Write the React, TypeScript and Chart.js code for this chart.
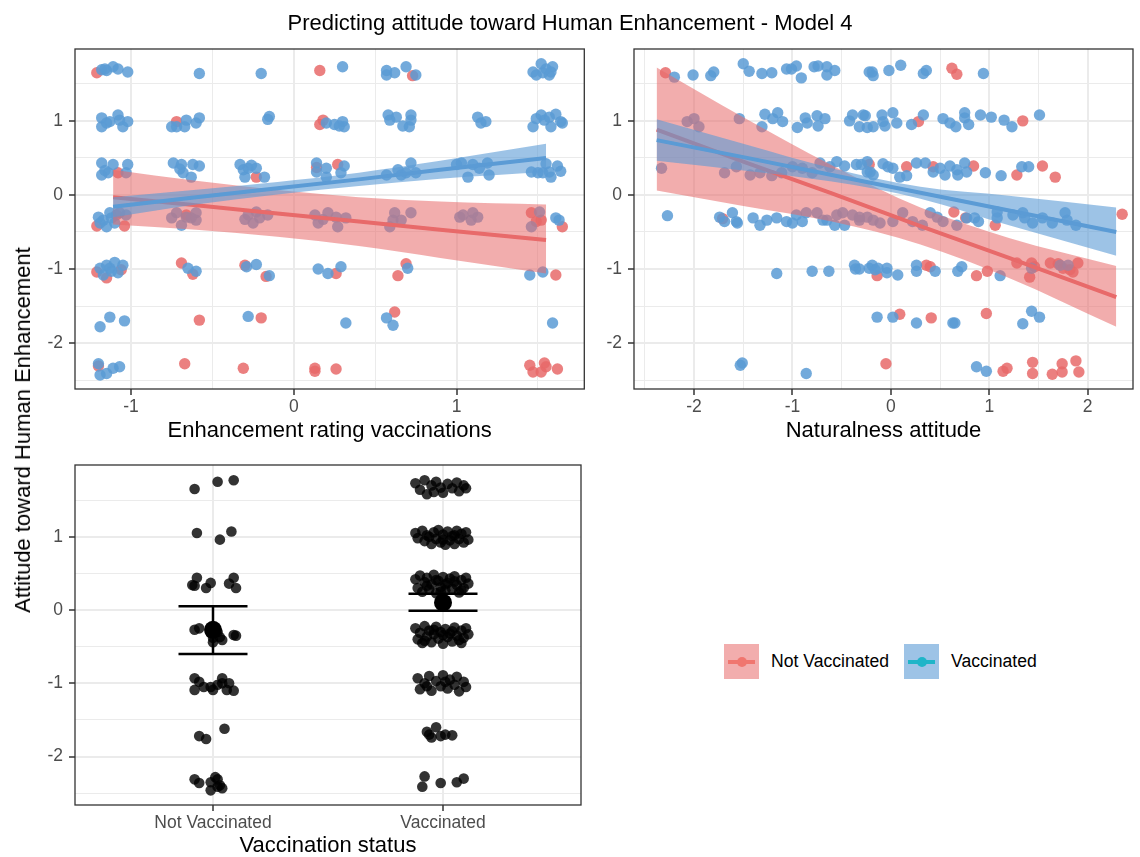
import React, { useEffect, useRef } from "react";
import { Chart, registerables } from "chart.js";

Chart.register(...registerables);

const FONT = '"Liberation Sans", Arial, Helvetica, sans-serif';

// ---------------- DATA ----------------
const TITLE = "Predicting attitude toward Human Enhancement - Model 4";
const Y_TITLE = "Attitude toward Human Enhancement";
const ENH_X_TITLE = "Enhancement rating vaccinations";
const NAT_X_TITLE = "Naturalness attitude";
const STATUS_X_TITLE = "Vaccination status";
const GROUPS = ["Not Vaccinated", "Vaccinated"];

const Y_MAJOR = [-2, -1, 0, 1];
const Y_MINOR = [-2.5, -1.5, -0.5, 0.5, 1.5];
const ENH_X_MAJOR = [-1, 0, 1];
const ENH_X_MINOR = [-0.5, 0.5, 1.5];
const NAT_X_MAJOR = [-2, -1, 0, 1, 2];
const NAT_X_MINOR = [-2.5, -1.5, -0.5, 0.5, 1.5];
const STATUS_X_MAJOR = [1, 2];

const Y_RANGE = [-2.62, 1.97];
const ENH_X_RANGE = [-1.344, 1.785];
const NAT_X_RANGE = [-2.61, 2.46];
const STATUS_Y_RANGE = [-2.66, 1.978];
const STATUS_X_RANGE = [0.4, 2.6];

// Panel 1: enhancement rating (x) vs attitude (y)
const ENH_NOT_VACC = [
  [-1.21, 1.65], [-1.08, 0.3], [-1.21, -0.42], [-1.04, -0.42], [-1.09, -0.27],
  [-1.21, -1.04], [-1.15, -1.12], [-1.06, -1.01], [-1.2, -2.31],
  [-0.72, 0.99], [-0.66, -0.27], [-0.69, -0.92], [-0.62, -1.07], [-0.58, -1.69], [-0.67, -2.28],
  [-0.23, 0.24], [-0.3, -0.95], [-0.17, -1.1], [-0.2, -1.66], [-0.31, -2.34],
  [0.16, 1.68], [0.18, 1.01], [0.16, 0.95], [0.14, 0.37], [0.27, 0.41], [0.26, -1.06],
  [0.13, -2.34], [0.13, -2.38], [0.26, -2.35],
  [0.73, 1.61], [0.69, -0.93], [0.64, -1.09], [0.62, -1.58],
  [1.46, -0.24], [1.49, -0.36], [1.52, -0.34], [1.65, -0.43], [1.61, -1.08],
  [1.45, -2.3], [1.47, -2.39], [1.52, -2.39], [1.54, -2.27], [1.55, -2.32], [1.62, -2.35],
];
const ENH_VACC = [
  [-1.18, 1.69], [-1.15, 1.68], [-1.11, 1.73], [-1.08, 1.7], [-1.02, 1.66], [-1.16, 1.7],
  [-1.18, 1.04], [-1.18, 0.92], [-1.13, 0.99], [-1.08, 1.08], [-1.07, 1.01], [-1.05, 0.92], [-1.02, 0.99], [-1.15, 0.97],
  [-1.18, 0.43], [-1.18, 0.27], [-1.14, 0.3], [-1.11, 0.41], [-1.02, 0.41], [-1.03, 0.3], [-1.16, 0.33],
  [-1.2, -0.3], [-1.17, -0.34], [-1.15, -0.43], [-1.19, -0.38], [-1.13, -0.24], [-1.1, -0.38], [-1.07, -0.24], [-1.03, -0.27], [-1.12, -0.31],
  [-1.19, -0.99], [-1.15, -0.95], [-1.13, -0.99], [-1.1, -0.91], [-1.08, -1.05], [-1.05, -0.95], [-1.17, -1.08], [-1.12, -1.03],
  [-1.19, -1.78], [-1.13, -1.65], [-1.04, -1.7],
  [-1.2, -2.28], [-1.19, -2.43], [-1.15, -2.41], [-1.11, -2.34], [-1.07, -2.32],
  [-0.58, 1.64],
  [-0.75, 0.92], [-0.72, 0.92], [-0.67, 0.92], [-0.66, 1.01], [-0.6, 0.97], [-0.58, 1.04],
  [-0.74, 0.43], [-0.69, 0.41], [-0.68, 0.3], [-0.63, 0.24], [-0.62, 0.41], [-0.58, 0.39], [-0.7, 0.35],
  [-0.75, -0.31], [-0.72, -0.24], [-0.69, -0.41], [-0.63, -0.31], [-0.6, -0.24], [-0.6, -0.34], [-0.66, -0.3],
  [-0.65, -0.99], [-0.6, -1.03],
  [-0.2, 1.64], [-0.15, 1.06], [-0.16, 1.02],
  [-0.33, 0.41], [-0.31, 0.34], [-0.28, 0.36], [-0.23, 0.36], [-0.18, 0.24], [-0.3, 0.24], [-0.26, 0.4],
  [-0.28, -0.27], [-0.25, -0.38], [-0.21, -0.31], [-0.16, -0.27], [-0.23, -0.23], [-0.3, -0.33],
  [-0.29, -0.97], [-0.23, -0.94], [-0.15, -1.09], [-0.28, -1.64],
  [0.3, 1.73],
  [0.2, 0.97], [0.25, 0.95], [0.3, 0.99], [0.31, 0.92], [0.28, 0.93],
  [0.14, 0.43], [0.14, 0.31], [0.2, 0.36], [0.31, 0.39], [0.29, 0.3], [0.2, 0.24],
  [0.13, -0.27], [0.15, -0.38], [0.21, -0.24], [0.26, -0.3], [0.27, -0.43], [0.32, -0.31], [0.18, -0.33],
  [0.15, -1.0], [0.21, -1.06], [0.29, -0.97], [0.32, -1.73],
  [0.57, 1.68], [0.57, 1.62], [0.62, 1.65], [0.69, 1.73], [0.75, 1.62],
  [0.58, 1.08], [0.59, 1.01], [0.63, 1.05], [0.67, 0.93], [0.72, 1.08], [0.72, 1.01], [0.71, 0.92],
  [0.57, 0.27], [0.64, 0.34], [0.66, 0.27], [0.72, 0.43], [0.75, 0.3], [0.69, 0.3],
  [0.59, -0.43], [0.62, -0.24], [0.61, -0.34], [0.66, -0.34], [0.72, -0.24],
  [0.7, -0.99], [0.57, -1.66], [0.61, -1.76],
  [1.13, 1.05], [1.18, 0.99], [1.15, 0.97],
  [1.0, 0.41], [1.03, 0.43], [1.07, 0.24], [1.1, 0.41], [1.14, 0.36], [1.19, 0.43], [1.2, 0.27],
  [1.02, -0.3], [1.09, -0.34], [1.1, -0.24], [1.13, -0.3], [1.04, -0.27],
  [1.47, 1.66], [1.49, 1.62], [1.52, 1.77], [1.53, 1.65], [1.57, 1.62], [1.59, 1.73], [1.58, 1.66], [1.55, 1.7],
  [1.47, 0.92], [1.49, 1.03], [1.52, 1.08], [1.57, 1.05], [1.58, 0.92], [1.61, 1.09], [1.64, 0.99], [1.65, 0.97], [1.54, 1.01],
  [1.46, 0.31], [1.5, 0.3], [1.55, 0.42], [1.58, 0.24], [1.62, 0.39], [1.64, 0.32], [1.53, 0.3], [1.57, 0.31],
  [1.51, -0.23], [1.46, -0.43], [1.61, -0.31], [1.63, -0.34],
  [1.45, -1.08], [1.53, -1.04], [1.59, -1.73],
];
const ENH_FIT_X = [-1.11, -0.6, -0.1, 0.4, 0.9, 1.55];
const ENH_RED_LINE = [-0.03, -0.14, -0.25, -0.36, -0.47, -0.61];
const ENH_RED_UPPER = [0.34, 0.19, 0.065, -0.03, -0.09, -0.13];
const ENH_RED_LOWER = [-0.4, -0.47, -0.565, -0.69, -0.85, -1.06];
const ENH_BLUE_LINE = [-0.16, -0.03, 0.09, 0.21, 0.34, 0.5];
const ENH_BLUE_UPPER = [-0.03, 0.07, 0.175, 0.3, 0.46, 0.69];
const ENH_BLUE_LOWER = [-0.3, -0.13, 0.005, 0.12, 0.22, 0.31];

// Panel 2: naturalness attitude (x) vs attitude (y)
const NAT_NOT_VACC = [
  [-2.29, 1.65], [0.62, 1.71], [0.67, 1.63],
  [0.28, 0.99], [1.34, 1.0],
  [-0.22, 0.41], [0.16, 0.38], [0.43, 0.38], [0.84, 0.39], [1.28, 0.27], [1.54, 0.39], [1.67, 0.24],
  [-1.71, -0.32], [0.64, -0.23], [0.76, -0.31], [1.06, -0.41], [2.35, -0.26],
  [-0.14, -1.09], [0.36, -0.95], [0.4, -0.97], [0.87, -1.09], [0.98, -1.03], [1.28, -0.92], [1.43, -0.92],
  [1.46, -0.97], [1.41, -1.11], [1.62, -0.92], [1.7, -0.93], [1.75, -0.99], [1.82, -1.01], [1.85, -1.04], [1.9, -0.92],
  [0.09, -1.61], [0.41, -1.66], [0.97, -1.6],
  [-0.05, -2.28], [1.14, -2.38], [1.18, -2.34], [1.44, -2.26], [1.44, -2.41], [1.64, -2.42], [1.74, -2.28],
  [1.74, -2.39], [1.88, -2.24], [1.91, -2.39],
];
const NAT_VACC = [
  [-2.2, 1.59], [-2.01, 1.62], [-1.83, 1.61], [-1.8, 1.66], [-1.5, 1.77], [-1.44, 1.67], [-1.31, 1.64], [-1.21, 1.65],
  [-1.06, 1.7], [-1.01, 1.7], [-0.96, 1.74], [-0.91, 1.58], [-0.78, 1.73], [-0.74, 1.74], [-0.65, 1.73], [-0.65, 1.62],
  [-0.57, 1.68], [-0.22, 1.66], [-0.19, 1.66], [-0.18, 1.61], [-0.02, 1.68], [0.1, 1.75], [0.33, 1.64], [0.36, 1.68], [0.94, 1.64],
  [-2.07, 0.99], [-2.0, 1.03], [-1.95, 0.92], [-1.54, 1.03], [-1.31, 0.92], [-1.28, 1.09], [-1.2, 1.03], [-1.15, 1.11],
  [-1.1, 0.99], [-0.95, 0.91], [-0.87, 1.04], [-0.85, 0.97], [-0.75, 1.07], [-0.74, 0.93], [-0.67, 1.03], [-0.42, 1.0],
  [-0.39, 1.08], [-0.32, 0.92], [-0.26, 1.07], [-0.24, 0.91], [-0.28, 1.08], [-0.18, 0.92], [-0.09, 1.08], [-0.06, 0.93],
  [0.02, 1.11], [0.06, 0.97], [-0.08, 0.99], [0.21, 0.95], [0.33, 1.08], [0.53, 1.03], [0.6, 0.97], [0.66, 0.92],
  [0.75, 1.11], [0.75, 1.04], [0.79, 0.95], [0.91, 1.08], [1.02, 1.05], [1.15, 1.01], [1.23, 0.92], [1.51, 1.08],
  [-2.33, 0.36], [-1.69, 0.3], [-1.57, 0.38], [-1.43, 0.27], [-1.33, 0.3], [-1.21, 0.26], [-1.11, 0.3], [-1.0, 0.38],
  [-0.9, 0.36], [-0.8, 0.3], [-0.72, 0.43], [-0.62, 0.38], [-0.55, 0.45], [-0.47, 0.39], [-0.35, 0.41], [-0.24, 0.45],
  [-0.21, 0.31], [-0.3, 0.41], [-0.24, 0.31], [-0.18, 0.27], [-0.08, 0.42], [-0.03, 0.38], [0.02, 0.36], [0.09, 0.24],
  [0.16, 0.26], [0.26, 0.43], [0.35, 0.43], [0.43, 0.31], [0.5, 0.36], [0.55, 0.27], [0.6, 0.39], [0.67, 0.34],
  [0.68, 0.27], [0.75, 0.43], [0.77, 0.31], [0.96, 0.3], [1.12, 0.26], [1.33, 0.38], [1.4, 0.38],
  [-2.27, -0.28], [-1.74, -0.3], [-1.69, -0.36], [-1.61, -0.24], [-1.57, -0.36], [-1.56, -0.38], [-1.4, -0.31],
  [-1.33, -0.41], [-1.26, -0.34], [-1.16, -0.31], [-1.06, -0.36], [-1.0, -0.38], [-0.9, -0.36], [-0.96, -0.27],
  [-0.86, -0.24], [-0.75, -0.24], [-0.69, -0.34], [-0.55, -0.27], [-0.49, -0.24], [-0.39, -0.27], [-0.32, -0.34],
  [-0.24, -0.3], [-0.65, -0.34], [-0.57, -0.41], [-0.47, -0.41], [-0.32, -0.3], [-0.18, -0.34], [-0.11, -0.38],
  [0.02, -0.36], [0.12, -0.24], [0.22, -0.36], [0.32, -0.41], [0.4, -0.24], [0.47, -0.3], [0.53, -0.36], [0.67, -0.41],
  [0.77, -0.31], [0.85, -0.31], [0.89, -0.36], [1.08, -0.31], [1.08, -0.23], [1.24, -0.27], [1.34, -0.24], [1.36, -0.31],
  [1.44, -0.38], [1.54, -0.31], [1.64, -0.38], [1.77, -0.24], [1.79, -0.34], [1.88, -0.41],
  [-1.16, -1.06], [-0.8, -1.03], [-0.63, -1.03], [-0.37, -0.95], [-0.36, -1.0], [-0.22, -0.99], [-0.32, -1.0],
  [-0.19, -0.95], [-0.16, -1.01], [-0.13, -0.99], [-0.04, -0.99], [-0.04, -1.05], [0.07, -1.08], [0.26, -0.95],
  [0.26, -1.03], [0.45, -1.03], [0.68, -1.03], [0.72, -0.97], [1.11, -1.09], [1.43, -0.99], [1.72, -0.95], [1.8, -0.95],
  [-0.14, -1.65], [0.02, -1.65], [0.26, -1.73], [0.63, -1.73], [0.65, -1.73], [1.34, -1.74], [1.43, -1.57], [1.51, -1.65],
  [-1.53, -2.3], [-1.51, -2.27], [-0.86, -2.41], [0.87, -2.32], [0.97, -2.38],
];
const NAT_FIT_X = [-2.38, -1.5, -0.6, 0.3, 1.2, 2.29];
const NAT_RED_LINE = [0.88, 0.45, 0.02, -0.42, -0.85, -1.38];
const NAT_RED_UPPER = [1.72, 1.05, 0.4, -0.17, -0.58, -0.96];
const NAT_RED_LOWER = [0.06, -0.15, -0.36, -0.67, -1.12, -1.78];
const NAT_BLUE_LINE = [0.74, 0.51, 0.27, 0.03, -0.21, -0.5];
const NAT_BLUE_UPPER = [1.02, 0.69, 0.36, 0.11, -0.01, -0.17];
const NAT_BLUE_LOWER = [0.46, 0.33, 0.18, -0.05, -0.41, -0.82];

// Panel 3: vaccination status (jittered x) vs attitude (y)
const STATUS_NOT_VACC = [
  [0.92, 1.65], [1.02, 1.75], [1.09, 1.77],
  [0.93, 1.05], [1.08, 1.07], [1.03, 0.96],
  [0.93, 0.44], [0.92, 0.33], [0.97, 0.3], [0.99, 0.37], [1.07, 0.36], [1.09, 0.44], [1.1, 0.3], [0.91, 0.34],
  [0.92, -0.27], [0.94, -0.25], [0.99, -0.31], [1.0, -0.23], [1.02, -0.3], [1.03, -0.37], [1.04, -0.41],
  [1.0, -0.44], [1.09, -0.34], [1.1, -0.35], [1.01, -0.25], [1.0, -0.38],
  [0.92, -0.93], [0.92, -1.09], [0.94, -0.98], [0.96, -1.05], [1.0, -1.09], [1.04, -0.93], [1.04, -1.0],
  [1.06, -1.09], [1.07, -1.0], [1.09, -1.1], [0.99, -1.05], [1.02, -1.02],
  [0.94, -1.72], [0.97, -1.76], [1.05, -1.62],
  [0.92, -2.31], [0.94, -2.36], [0.99, -2.35], [1.01, -2.28], [1.02, -2.31], [1.03, -2.39], [1.04, -2.43],
  [0.99, -2.46], [1.02, -2.41],
];
const STATUS_VACC = [
  [1.88, 1.73], [1.9, 1.64], [1.92, 1.77], [1.93, 1.58], [1.95, 1.7], [1.97, 1.75], [1.99, 1.67], [2.0, 1.6],
  [2.02, 1.72], [2.04, 1.66], [2.06, 1.74], [2.07, 1.62], [2.09, 1.7], [2.1, 1.66], [1.96, 1.61],
  [1.88, 1.05], [1.89, 0.98], [1.91, 1.08], [1.92, 0.94], [1.93, 1.02], [1.95, 0.9], [1.96, 1.06], [1.97, 0.97],
  [1.98, 1.09], [1.99, 0.92], [2.0, 1.03], [2.01, 0.89], [2.02, 1.07], [2.03, 0.95], [2.04, 1.01], [2.05, 0.9],
  [2.06, 1.08], [2.07, 0.97], [2.08, 1.04], [2.09, 0.92], [2.1, 1.06], [2.11, 0.96], [1.94, 1.0], [2.0, 0.96], [2.05, 1.02],
  [1.88, 0.42], [1.89, 0.3], [1.9, 0.47], [1.91, 0.25], [1.92, 0.38], [1.93, 0.44], [1.94, 0.28], [1.95, 0.35],
  [1.96, 0.48], [1.97, 0.23], [1.98, 0.4], [1.99, 0.31], [2.0, 0.45], [2.01, 0.27], [2.02, 0.37], [2.03, 0.43],
  [2.04, 0.29], [2.05, 0.46], [2.06, 0.34], [2.07, 0.24], [2.08, 0.41], [2.09, 0.3], [2.1, 0.44], [2.11, 0.36],
  [1.93, 0.33], [1.97, 0.41], [2.01, 0.35], [2.05, 0.39], [1.99, 0.25], [2.08, 0.27],
  [1.88, -0.25], [1.89, -0.4], [1.9, -0.31], [1.91, -0.45], [1.92, -0.22], [1.93, -0.36], [1.94, -0.28], [1.95, -0.44],
  [1.96, -0.33], [1.97, -0.23], [1.98, -0.39], [1.99, -0.3], [2.0, -0.46], [2.01, -0.26], [2.02, -0.37], [2.03, -0.32],
  [2.04, -0.43], [2.05, -0.24], [2.06, -0.35], [2.07, -0.41], [2.08, -0.28], [2.09, -0.38], [2.1, -0.25], [2.11, -0.33],
  [1.92, -0.42], [1.96, -0.27], [2.0, -0.34], [2.04, -0.29], [2.08, -0.45],
  [1.89, -0.93], [1.9, -1.08], [1.92, -1.0], [1.94, -0.9], [1.95, -1.1], [1.97, -0.97], [1.99, -1.04], [2.0, -0.89],
  [2.02, -1.07], [2.03, -0.95], [2.05, -1.02], [2.06, -0.91], [2.07, -1.11], [2.09, -0.98], [2.1, -1.05], [1.93, -1.04], [2.01, -0.98],
  [1.93, -1.66], [1.95, -1.74], [1.97, -1.6], [1.99, -1.72], [2.01, -1.7], [2.04, -1.71], [1.94, -1.7],
  [1.92, -2.27], [1.91, -2.41], [1.99, -2.36], [2.06, -2.35], [2.09, -2.3],
];
const STATUS_POS = [1, 2];
const STATUS_MEAN = [-0.27, 0.1];
const STATUS_LOW = [-0.6, -0.01];
const STATUS_HIGH = [0.05, 0.22];

// ---------------- STYLE ----------------
const RED = "rgb(232,106,106)";
const BLUE = "rgb(91,155,213)";
const RED_PT = "rgba(232,106,106,0.85)";
const BLUE_PT = "rgba(91,155,213,0.85)";
const RED_FILL = "rgba(232,106,106,0.55)";
const BLUE_FILL = "rgba(91,155,213,0.6)";
const BLACK_PT = "rgba(0,0,0,0.8)";
const LEG_RED = "#F0766F";
const LEG_TEAL = "#1FB5C8";
const CAP_HALF = 0.15;

const panelBorder = {
  id: "panelBorder",
  afterDraw(chart: any) {
    const { ctx, chartArea: a } = chart;
    ctx.save();
    ctx.strokeStyle = "#333333";
    ctx.lineWidth = 1.3;
    ctx.strokeRect(a.left, a.top, a.right - a.left, a.bottom - a.top);
    ctx.restore();
  },
};

function axis(o: any) {
  const major: number[] = o.major;
  const minor: number[] = o.minor || [];
  const all = [...major, ...minor].sort((a, b) => a - b);
  const isMajor = (v: number) => major.some((m) => Math.abs(m - v) < 1e-9);
  return {
    type: "linear",
    bounds: "data",
    min: o.range[0],
    max: o.range[1],
    afterBuildTicks: (ax: any) => {
      ax.ticks = all.map((v) => ({ value: v }));
    },
    afterFit: (ax: any) => {
      if (o.isX) ax.height = o.size;
      else ax.width = o.size;
      ax.paddingTop = 0;
      ax.paddingBottom = 0;
      ax.paddingLeft = 0;
      ax.paddingRight = 0;
    },
    grid: {
      color: "#EBEBEB",
      lineWidth: (c: any) => (c.tick && isMajor(c.tick.value) ? 2 : 1),
      tickColor: (c: any) => (c.tick && isMajor(c.tick.value) ? "#333333" : "rgba(0,0,0,0)"),
      tickLength: 6,
      tickWidth: 1.5,
      drawTicks: true,
    },
    border: { display: false },
    ticks: {
      autoSkip: false,
      maxRotation: 0,
      minRotation: 0,
      padding: o.isX ? 2 : 6,
      color: "#4D4D4D",
      font: { family: FONT, size: 17.5 },
      callback: (v: number) => (isMajor(v) ? o.label(v) : ""),
    },
    title: o.title
      ? {
          display: true,
          text: o.title,
          color: "#000000",
          font: { family: FONT, size: 22, lineHeight: 1 },
          padding: { top: 0, bottom: o.titlePad },
        }
      : { display: false },
  };
}

const pts = (arr: number[][]) => arr.map(([x, y]) => ({ x, y }));

function scatterSet(arr: number[][], color: string, radius: number, order: number) {
  return {
    data: pts(arr),
    showLine: false,
    pointRadius: radius,
    pointHoverRadius: radius,
    pointBackgroundColor: color,
    pointBorderColor: "rgba(0,0,0,0)",
    pointBorderWidth: 0,
    order,
  };
}

function ribbonSets(xs: number[], up: number[], lo: number[], fill: string, order: number) {
  const common = {
    borderWidth: 0,
    borderColor: "rgba(0,0,0,0)",
    pointRadius: 0,
    cubicInterpolationMode: "monotone",
    order,
  };
  return [
    { ...common, data: xs.map((x, i) => ({ x, y: up[i] })), fill: "+1", backgroundColor: fill },
    { ...common, data: xs.map((x, i) => ({ x, y: lo[i] })), fill: false },
  ];
}

function lineSet(data: { x: number; y: number }[], color: string, width: number, order: number) {
  return {
    data,
    borderColor: color,
    borderWidth: width,
    borderCapStyle: "butt",
    pointRadius: 0,
    fill: false,
    order,
  };
}

const fmt = (v: number) => String(v);

function baseOptions(padding: any, scales: any) {
  return {
    animation: false,
    responsive: false,
    maintainAspectRatio: false,
    devicePixelRatio: 1,
    events: [],
    layout: { padding },
    plugins: { legend: { display: false }, tooltip: { enabled: false }, title: { display: false } },
    scales,
  };
}

function regressionConfig(p: any) {
  const datasets = [
    scatterSet(p.notVacc, RED_PT, 5.7, 20),
    scatterSet(p.vacc, BLUE_PT, 5.7, 19),
    ...ribbonSets(p.fitX, p.redUp, p.redLo, RED_FILL, 10),
    lineSet(p.fitX.map((x: number, i: number) => ({ x, y: p.redLine[i] })), RED, 4, 9),
    ...ribbonSets(p.fitX, p.blueUp, p.blueLo, BLUE_FILL, 8),
    lineSet(p.fitX.map((x: number, i: number) => ({ x, y: p.blueLine[i] })), BLUE, 4, 7),
  ];
  return {
    type: "line",
    data: { datasets },
    options: baseOptions(p.padding, {
      x: axis({ isX: true, size: 61, range: p.xRange, major: p.xMajor, minor: p.xMinor, label: fmt, title: p.xTitle, titlePad: 8 }),
      y: axis({ isX: false, size: p.yWidth, range: Y_RANGE, major: Y_MAJOR, minor: Y_MINOR, label: fmt }),
    }),
    plugins: [panelBorder],
  };
}

function statusConfig() {
  const bars: any[] = [];
  STATUS_POS.forEach((pos, i) => {
    bars.push(lineSet([{ x: pos, y: STATUS_LOW[i] }, { x: pos, y: STATUS_HIGH[i] }], "#000", 2.5, 3));
    bars.push(lineSet([{ x: pos - CAP_HALF, y: STATUS_HIGH[i] }, { x: pos + CAP_HALF, y: STATUS_HIGH[i] }], "#000", 2.5, 3));
    bars.push(lineSet([{ x: pos - CAP_HALF, y: STATUS_LOW[i] }, { x: pos + CAP_HALF, y: STATUS_LOW[i] }], "#000", 2.5, 3));
  });
  const means = STATUS_POS.map((pos, i) => [pos, STATUS_MEAN[i]]);
  const datasets = [
    scatterSet(STATUS_NOT_VACC, BLACK_PT, 5.3, 20),
    scatterSet(STATUS_VACC, BLACK_PT, 5.3, 19),
    ...bars,
    scatterSet(means, "#000", 9, 2),
  ];
  return {
    type: "line",
    data: { datasets },
    options: baseOptions({ top: 10, right: 5, left: 0, bottom: 0 }, {
      x: axis({
        isX: true, size: 52, range: STATUS_X_RANGE, major: STATUS_X_MAJOR, minor: [],
        label: (v: number) => GROUPS[STATUS_POS.indexOf(v)], title: STATUS_X_TITLE, titlePad: 0,
      }),
      y: axis({ isX: false, size: 75, range: STATUS_Y_RANGE, major: Y_MAJOR, minor: Y_MINOR, label: fmt }),
    }),
    plugins: [panelBorder],
  };
}

function ChartCanvas({ left, top, width, height, make }: any) {
  const ref = useRef<HTMLCanvasElement>(null);
  useEffect(() => {
    const chart = new Chart(ref.current as HTMLCanvasElement, make());
    return () => chart.destroy();
  }, []);
  return (
    <canvas
      ref={ref}
      width={width}
      height={height}
      style={{ position: "absolute", left, top, width, height, display: "block" }}
    />
  );
}

function LegendKey({ left, fill, line }: any) {
  return (
    <div style={{ position: "absolute", left, top: 644, width: 35, height: 35, background: fill }}>
      <div style={{ position: "absolute", left: 4, right: 4, top: 16, height: 3.5, background: line }} />
      <div
        style={{ position: "absolute", left: 12.5, top: 12.5, width: 10, height: 10, borderRadius: "50%", background: line }}
      />
    </div>
  );
}

export default function App() {
  const enh = () =>
    regressionConfig({
      notVacc: ENH_NOT_VACC, vacc: ENH_VACC, fitX: ENH_FIT_X,
      redLine: ENH_RED_LINE, redUp: ENH_RED_UPPER, redLo: ENH_RED_LOWER,
      blueLine: ENH_BLUE_LINE, blueUp: ENH_BLUE_UPPER, blueLo: ENH_BLUE_LOWER,
      xRange: ENH_X_RANGE, xMajor: ENH_X_MAJOR, xMinor: ENH_X_MINOR, xTitle: ENH_X_TITLE,
      yWidth: 75, padding: { top: 49, right: 5, left: 0, bottom: 0 },
    });
  const nat = () =>
    regressionConfig({
      notVacc: NAT_NOT_VACC, vacc: NAT_VACC, fitX: NAT_FIT_X,
      redLine: NAT_RED_LINE, redUp: NAT_RED_UPPER, redLo: NAT_RED_LOWER,
      blueLine: NAT_BLUE_LINE, blueUp: NAT_BLUE_UPPER, blueLo: NAT_BLUE_LOWER,
      xRange: NAT_X_RANGE, xMajor: NAT_X_MAJOR, xMinor: NAT_X_MINOR, xTitle: NAT_X_TITLE,
      yWidth: 44, padding: { top: 49, right: 7, left: 0, bottom: 0 },
    });
  return (
    <div
      style={{
        position: "absolute", left: 0, top: 0, width: 1140, height: 857, overflow: "hidden",
        background: "#ffffff", fontFamily: FONT, color: "#000",
      }}
    >
      <ChartCanvas left={0} top={0} width={590} height={450} make={enh} />
      <ChartCanvas left={590} top={0} width={550} height={450} make={nat} />
      <ChartCanvas left={0} top={455} width={590} height={402} make={statusConfig} />
      <div
        style={{
          position: "absolute", left: 0, top: 10, width: 1140, textAlign: "center",
          fontSize: 22, lineHeight: "26px", whiteSpace: "nowrap",
        }}
      >
        {TITLE}
      </div>
      <div
        style={{
          position: "absolute", left: 23, top: 430, transform: "translate(-50%, -50%) rotate(-90deg)",
          fontSize: 22, lineHeight: "26px", whiteSpace: "nowrap",
        }}
      >
        {Y_TITLE}
      </div>
      <LegendKey left={724} fill={RED_FILL} line={LEG_RED} />
      <div style={{ position: "absolute", left: 771, top: 650, fontSize: 17.6, lineHeight: "22px", whiteSpace: "nowrap" }}>
        {GROUPS[0]}
      </div>
      <LegendKey left={904} fill={BLUE_FILL} line={LEG_TEAL} />
      <div style={{ position: "absolute", left: 951, top: 650, fontSize: 17.6, lineHeight: "22px", whiteSpace: "nowrap" }}>
        {GROUPS[1]}
      </div>
    </div>
  );
}
